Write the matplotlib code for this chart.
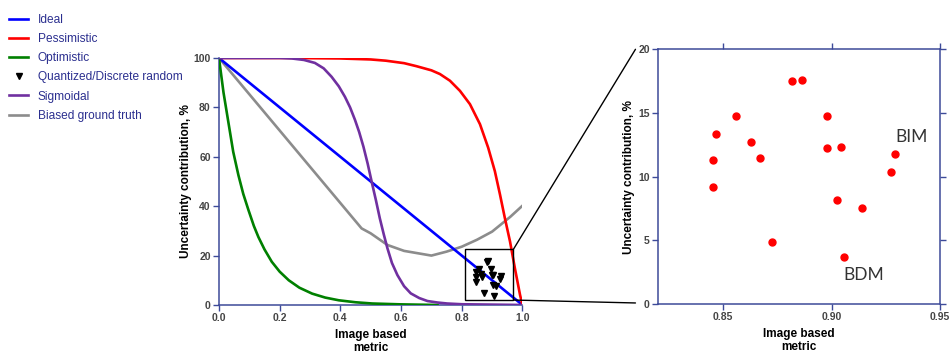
import numpy as np
import matplotlib
matplotlib.use("Agg")
import matplotlib.pyplot as plt
from matplotlib.patches import Rectangle, ConnectionPatch

plt.rcParams['font.family'] = ['Liberation Sans', 'DejaVu Sans']

# curves of uncertainty contribution vs image based metric
ideal_x = [0.0, 1.0]
ideal_y = [100, 0]

pess_x = [0.0, 0.22, 0.4, 0.5, 0.55, 0.61, 0.65, 0.70, 0.728, 0.761, 0.794, 0.827, 0.860, 0.887, 0.909,
          0.926, 0.942, 0.959, 0.975, 0.992, 1.0]
pess_y = [100, 100, 99.8, 99.4, 98.9, 97.9, 96.7, 95.0, 93.5, 90.8, 86.7, 81.3, 73.2, 63.7, 54.2,
          44.7, 35.2, 25.7, 14.9, 4.1, 0.0]

opt_x = [0.0, 0.015, 0.031, 0.047, 0.064, 0.08, 0.097, 0.115, 0.13, 0.15, 0.174, 0.2, 0.23, 0.265,
         0.307, 0.35, 0.395, 0.45, 0.505, 0.6, 0.72]
opt_y = [100, 86, 74, 62, 52.6, 45, 38.5, 32, 27.5, 22.5, 17.5, 13.5, 10.0, 7.0,
         4.6, 3.0, 1.9, 1.1, 0.6, 0.25, 0.0]

sig_x = [0.0, 0.2, 0.24, 0.28, 0.316, 0.345, 0.371, 0.395, 0.415, 0.432, 0.448, 0.462, 0.476, 0.49,
         0.503, 0.517, 0.53, 0.543, 0.555, 0.57, 0.588, 0.61, 0.632, 0.66, 0.687, 0.72, 0.752, 0.8, 1.0]
sig_y = [100, 100, 99.8, 99.2, 98, 95.8, 92.4, 88.5, 84.3, 80, 75, 70, 64.1, 57.2,
         50, 42.5, 35.1, 28.6, 23, 17, 12.1, 7.6, 4.7, 2.8, 1.6, 1.0, 0.6, 0.3, 0.0]

bias_x = [0.0, 0.47, 0.5, 0.555, 0.61, 0.70, 0.75, 0.80, 0.85, 0.90, 0.96, 1.0]
bias_y = [100, 31.0, 29.0, 24.3, 21.9, 20.0, 21.6, 23.6, 26.4, 29.7, 35.7, 40.2]

# discrete measured points (BIM / BDM cases)
pts_x = [0.8455, 0.8455, 0.8469, 0.8561, 0.8630, 0.8671, 0.8725, 0.8818, 0.8862,
         0.8977, 0.8981, 0.9042, 0.9025, 0.9056, 0.9140, 0.9272, 0.9293]
pts_y = [11.33, 9.19, 13.38, 14.74, 12.70, 11.47, 4.84, 17.51, 17.62,
         14.74, 12.28, 12.33, 8.17, 3.69, 7.54, 10.37, 11.75]

legend_labels = ["Ideal", "Pessimistic", "Optimistic", "Quantized/Discrete random",
                 "Sigmoidal", "Biased ground truth"]

spine_col = '#3d4a99'
tick_col = '#444444'
lw = 1.9

fig = plt.figure(figsize=(9.52, 3.57), dpi=100)
ax = fig.add_axes([0.2300, 0.1457, 0.3188, 0.6919])
ax2 = fig.add_axes([0.6912, 0.1485, 0.2962, 0.7134])

h1, = ax.plot(ideal_x, ideal_y, color='#0000ff', lw=lw, zorder=3)
h2, = ax.plot(pess_x, pess_y, color='#ff0000', lw=lw, zorder=3)
h3, = ax.plot(opt_x, opt_y, color='#008000', lw=lw, zorder=3)
h4, = ax.plot(pts_x, pts_y, 'v', color='black', ms=4.5, zorder=4, lw=0)
h5, = ax.plot(sig_x, sig_y, color='#7030a0', lw=lw, zorder=3)
h6, = ax.plot(bias_x, bias_y, color='#8c8c8c', lw=lw, zorder=2)

# zoom window
box = Rectangle((0.81, 2), 0.16, 20.5, fill=False, ec='black', lw=1.0, zorder=5)
ax.add_patch(box)

ax.set_xlim(0, 1.0)
ax.set_ylim(0, 100)
ax.set_xticks([0.0, 0.2, 0.4, 0.6, 0.8, 1.0])
ax.set_yticks([0, 20, 40, 60, 80, 100])
ax.xaxis.set_major_formatter(matplotlib.ticker.FormatStrFormatter('%.1f'))
for s in ['top', 'right']:
    ax.spines[s].set_visible(False)
for s in ['left', 'bottom']:
    ax.spines[s].set_color(spine_col)
    ax.spines[s].set_linewidth(1.1)
ax.tick_params(direction='out', length=4, width=1, color=spine_col, labelcolor=tick_col,
               labelsize=7.5, pad=2)
ax.set_xlabel("Image based\nmetric", fontsize=8.5, fontweight='bold', labelpad=4, linespacing=1.15)
ax.set_ylabel("Uncertainty contribution, %", fontsize=8.5, fontweight='bold', labelpad=1)

# detail panel
ax2.plot(pts_x, pts_y, 'o', color='#ff0000', ms=5, lw=0)
ax2.set_xlim(0.82, 0.95)
ax2.set_ylim(0, 20)
ax2.set_xticks([0.85, 0.90, 0.95])
ax2.set_yticks([0, 5, 10, 15, 20])
ax2.xaxis.set_major_formatter(matplotlib.ticker.FormatStrFormatter('%.2f'))
for s in ax2.spines.values():
    s.set_color(spine_col)
    s.set_linewidth(1.1)
ax2.tick_params(direction='out', length=4, width=1, color=spine_col, labelcolor=tick_col,
                labelsize=7.5, pad=2, top=True, right=True)
ax2.set_xlabel("Image based\nmetric", fontsize=8.5, fontweight='bold', labelpad=4, linespacing=1.15)
ax2.set_ylabel("Uncertainty contribution, %", fontsize=8.5, fontweight='bold', labelpad=2)
ax2.text(0.9295, 13.1, "BIM", fontsize=12.5, color='#333333', va='center', family=['Lato', 'DejaVu Sans'])
ax2.text(0.9056, 2.24, "BDM", fontsize=12.5, color='#333333', va='center', family=['Lato', 'DejaVu Sans'])

for a in (ax, ax2):
    for lab in a.get_xticklabels() + a.get_yticklabels():
        lab.set_fontweight('bold')

# lines joining the zoom window to the detail panel
for ya, yb in [(22.5, 1.0), (2, 0.004)]:
    cp = ConnectionPatch(xyA=(0.97, ya), coordsA=ax.transData,
                         xyB=(-0.08, yb), coordsB=ax2.transAxes,
                         color='black', lw=1.0)
    fig.add_artist(cp)

fig.legend([h1, h2, h3, h4, h5, h6], legend_labels, loc='upper left',
           bbox_to_anchor=(0.0, 0.986), frameon=False, fontsize=8.6, labelcolor='#2b2f8f',
           handlelength=1.6, handletextpad=0.8, labelspacing=0.6, borderaxespad=0.35)

fig.savefig("out.png", dpi=100)
